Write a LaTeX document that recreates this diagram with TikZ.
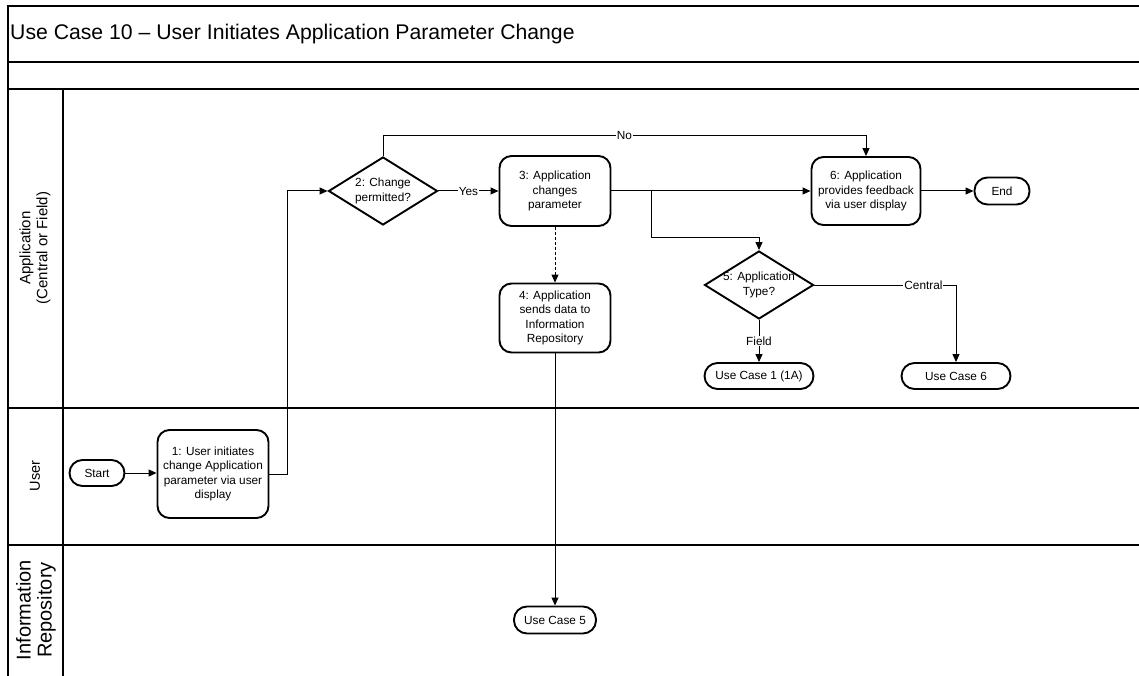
\documentclass[tikz,border=0pt]{standalone}
\usepackage{fontspec}
\setmainfont{Liberation Sans}
\usetikzlibrary{arrows.meta,shapes.geometric}

\newcommand\boxfont{\fontsize{11.8}{14.3}\selectfont}

\begin{document}
\begin{tikzpicture}[x=1pt,y=-1pt,
  lane/.style={line width=1.1pt},
  box/.style={draw,line width=1.9pt,rounded corners=12pt,align=center,inner sep=2pt,font=\boxfont},
  term/.style={draw,line width=1.9pt,rounded corners=13pt,font=\boxfont,inner sep=0pt},
  dec/.style={draw,diamond,line width=1.9pt,inner sep=0pt,minimum width=109pt,minimum height=68pt,aspect=1.6},
  dectext/.style={font=\boxfont,align=center,inner sep=0pt},
  flow/.style={line width=1pt,-{Triangle[length=8pt,width=7pt]}},
  lbl/.style={fill=white,inner sep=1pt,font=\boxfont},
  lanetext/.style={rotate=90,align=center},
]
\useasboundingbox (0,0) rectangle (1139,676);

% swimlane frame
\draw[lane] (8,676) -- (8,6) -- (1139,6);
\draw[lane] (8,62) -- (1139,62);
\draw[lane] (8,89) -- (1139,89);
\draw[lane] (8,408) -- (1139,408);
\draw[lane] (8,545) -- (1139,545);
\draw[lane] (63,89) -- (63,676);

\node[anchor=west,font=\fontsize{21.2}{25}\selectfont,inner sep=0pt] (title) at (10,34)
  {Use Case 10 – User Initiates Application Parameter Change};

% lane labels
\node[lanetext,font=\fontsize{15}{17}\selectfont] (laneA) at (35,248) {Application\\(Central or Field)};
\node[lanetext,font=\fontsize{14.5}{16}\selectfont] (laneU) at (35,476) {User};
\node[lanetext,font=\fontsize{20}{21}\selectfont] (laneI) at (36,610) {Information\\Repository};

% process steps
\node[term,minimum width=55pt,minimum height=26pt] (start) at (97,473) {Start};
\node[box,minimum width=111pt,minimum height=88pt] (n1) at (213,474)
  {1: User initiates\\change Application\\parameter via user\\display};
\node[dec] (d2) at (383,191) {};
\node[dectext] (d2t) at (d2.center) {2: Change\\permitted?};
\node[box,minimum width=111pt,minimum height=70pt] (n3) at (555,191)
  {3: Application\\changes\\parameter};
\node[box,minimum width=111pt,minimum height=69pt] (n4) at (555,318)
  {4: Application\\sends data to\\Information\\Repository};
\node[box,minimum width=109pt,minimum height=68pt] (n6) at (866,191)
  {6: Application\\provides feedback\\via user display};
\node[term,minimum width=55pt,minimum height=27pt] (end) at (1002,191) {End};
\node[dec] (d5) at (759,285) {};
\node[dectext] (d5t) at (d5.center) {5: Application\\Type?};
\node[term,minimum width=109pt,minimum height=26pt] (uc1) at (759,376) {Use Case 1 (1A)};
\node[term,minimum width=109pt,minimum height=26pt] (uc6) at (956,376) {Use Case 6};
\node[term,minimum width=82pt,minimum height=27pt] (uc5) at (555,620) {Use Case 5};

% routing points
\coordinate (riser) at (287,0);
\coordinate (noy) at (0,136);
\coordinate (br) at (651,191);
\coordinate (brd) at (651,237);

% connectors
\draw[flow] (start) -- (start.east -| n1.west);
\draw[flow] (n1.east) -- (n1.east -| riser) -- (d2.west -| riser) -- (d2.west);
\draw[flow] (d2.east) -- node[lbl]{Yes} (n3.west);
\draw[flow] (d2.north) -- (d2.north |- noy) -- node[lbl]{No} (n6.north |- noy) -- (n6.north);
\draw[flow] (n3.east) -- (n6.west);
\draw[flow] (br) -- (brd) -| (d5.north);
\draw[flow,dash pattern=on 3pt off 2pt] (n3.south) -- (n4.north);
\draw[flow] (n4.south) -- (uc5.north);
\draw[flow] (n6.east) -- (end.west);
\draw[flow] (d5.east) -| node[lbl,pos=0.385]{Central} (uc6.north);
\draw[flow] (d5.south) -- node[lbl]{Field} (uc1.north);
\end{tikzpicture}
\end{document}
